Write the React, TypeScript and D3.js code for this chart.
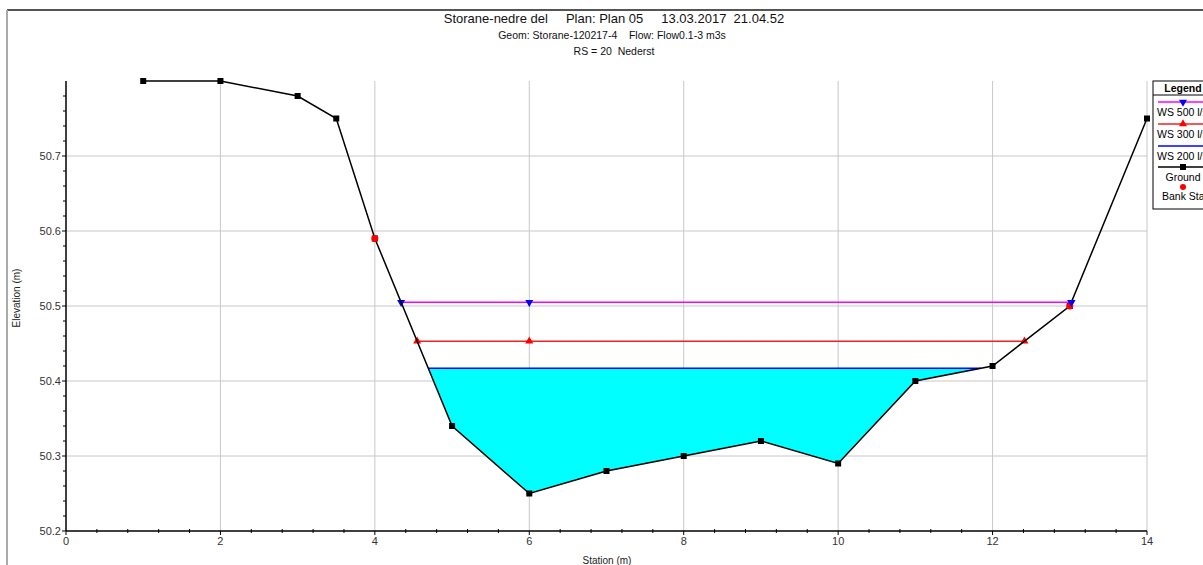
import React from "react";
import * as d3 from "d3";

// ground profile (station m, elevation m)
const groundStations = [1, 2, 3, 3.5, 4, 5, 6, 7, 8, 9, 10, 11, 12, 13, 14];
const groundElev = [50.8, 50.8, 50.78, 50.75, 50.59, 50.34, 50.25, 50.28, 50.3, 50.32, 50.29, 50.4, 50.42, 50.5, 50.75];

// bank stations
const bankStations = [4, 13];
const bankElev = [50.59, 50.5];

// water surfaces
const wsNames = ["WS 500 l/s", "WS 300 l/s", "WS 200 l/s"];
const wsElev = [50.505, 50.453, 50.417];
const wsMidMarker = [6, 6, null];

const xTicks = [0, 2, 4, 6, 8, 10, 12, 14];
const yTicks = [50.2, 50.3, 50.4, 50.5, 50.6, 50.7];

const W = 1203;
const H = 565;
const x = d3.scaleLinear().domain([0, 14]).range([66, 1147]);
const y = d3.scaleLinear().domain([50.2, 50.8]).range([531, 81]);

const ground = groundStations.map((s, i) => ({ s, e: groundElev[i] }));

// where the ground crosses a water level, left and right of the channel
function crossings(ws: number) {
    let left = ground[0].s;
    let right = ground[ground.length - 1].s;
    for (let i = 0; i < ground.length - 1; i++) {
        const a = ground[i], b = ground[i + 1];
        if (a.e >= ws && b.e < ws) {
            left = a.s + ((a.e - ws) / (a.e - b.e)) * (b.s - a.s);
            break;
        }
    }
    for (let i = ground.length - 2; i >= 0; i--) {
        const a = ground[i], b = ground[i + 1];
        if (a.e < ws && b.e >= ws) {
            right = a.s + ((ws - a.e) / (b.e - a.e)) * (b.s - a.s);
            break;
        }
    }
    return [left, right];
}

const wsColors = ["#ff00ff", "#ee2222", "#0000ff"];
const wsMarkerColors = ["#0000ff", "#ff0000", null];

const font = "'Liberation Sans', Arial, sans-serif";

export default function App() {
    const line = d3.line<{ s: number; e: number }>().x((d) => x(d.s)).y((d) => y(d.e));

    // fill below the lowest water surface
    const w200 = wsElev[2];
    const [l200, r200] = crossings(w200);
    const fillPts = [
        { s: l200, e: w200 },
        ...ground.filter((g) => g.s > l200 && g.s < r200),
        { s: r200, e: w200 },
    ];

    const tri = d3.symbol(d3.symbolTriangle, 28)();

    const xMinor = d3.range(0, 14.001, 0.4).filter((v) => Math.abs(v / 2 - Math.round(v / 2)) > 0.01);
    const yMinor = d3.range(50.2, 50.8001, 0.02).filter((v) => Math.abs(v * 10 - Math.round(v * 10)) > 0.01);

    return (
        <svg width={W} height={H} style={{ position: "absolute", left: 0, top: 0, background: "#fff" }} fontFamily={font}>
            {/* frame */}
            <line x1={7} y1={10} x2={W} y2={10} stroke="#555" strokeWidth={2} />
            <line x1={7} y1={10} x2={7} y2={H} stroke="#aaa" strokeWidth={2} />

            {/* titles */}
            <text x={614} y={23} textAnchor="middle" fontSize={13} fill="#111" style={{ whiteSpace: "pre" }}>
                {"Storane-nedre del     Plan: Plan 05     13.03.2017  21.04.52"}
            </text>
            <text x={612} y={39} textAnchor="middle" fontSize={10.5} fill="#111" style={{ whiteSpace: "pre" }}>
                {"Geom: Storane-120217-4    Flow: Flow0.1-3 m3s"}
            </text>
            <text x={614} y={55} textAnchor="middle" fontSize={10.5} fill="#111" style={{ whiteSpace: "pre" }}>
                {"RS = 20  Nederst"}
            </text>

            {/* grid */}
            {xTicks.slice(1).map((t) => (
                <line key={"gx" + t} x1={x(t)} x2={x(t)} y1={y(50.8)} y2={y(50.2)} stroke="#c8c8c8" />
            ))}
            {yTicks.slice(1).map((t) => (
                <line key={"gy" + t} x1={x(0)} x2={x(14)} y1={y(t)} y2={y(t)} stroke="#c8c8c8" />
            ))}

            {/* water fill */}
            <path d={line(fillPts) + "Z"} fill="#00ffff" stroke="none" />

            {/* water surfaces */}
            {wsElev.map((w, i) => {
                const [l, r] = crossings(w);
                return (
                    <g key={"ws" + i}>
                        <line x1={x(l)} x2={x(r)} y1={y(w)} y2={y(w)} stroke={wsColors[i]} strokeWidth={1.5} />
                        {wsMarkerColors[i] &&
                            [l, wsMidMarker[i] as number, r].map((s, k) => (
                                <path
                                    key={k}
                                    d={tri}
                                    fill={wsMarkerColors[i] as string}
                                    transform={`translate(${x(s)},${y(w)}) rotate(${i === 0 ? 180 : 0})`}
                                />
                            ))}
                    </g>
                );
            })}

            {/* ground */}
            <path d={line(ground) || ""} fill="none" stroke="#000" strokeWidth={1.5} />
            {ground.map((g, i) => (
                <rect key={"g" + i} x={x(g.s) - 3} y={y(g.e) - 3} width={6} height={6} fill="#000" />
            ))}
            {bankStations.map((s, i) => (
                <circle key={"b" + i} cx={x(s)} cy={y(bankElev[i])} r={3.5} fill="#ff0000" />
            ))}
            <path d={tri} fill="#0000ff" transform={`translate(${x(crossings(wsElev[0])[1])},${y(wsElev[0])}) rotate(180)`} />

            {/* axes */}
            <line x1={x(0)} x2={x(14)} y1={y(50.2)} y2={y(50.2)} stroke="#000" strokeWidth={1.5} />
            <line x1={x(0)} x2={x(0)} y1={y(50.2)} y2={y(50.8)} stroke="#000" strokeWidth={1.5} />
            {xTicks.map((t) => (
                <g key={"xt" + t}>
                    <line x1={x(t)} x2={x(t)} y1={y(50.2)} y2={y(50.2) + 4} stroke="#000" />
                    <text x={x(t)} y={545} textAnchor="middle" fontSize={11} fill="#333">{t}</text>
                </g>
            ))}
            {xMinor.map((t, i) => (
                <line key={"xm" + i} x1={x(t)} x2={x(t)} y1={y(50.2) - 2} y2={y(50.2) + 2} stroke="#000" />
            ))}
            {yTicks.map((t) => (
                <g key={"yt" + t}>
                    <line x1={x(0) - 4} x2={x(0)} y1={y(t)} y2={y(t)} stroke="#000" />
                    <text x={61} y={y(t) + 4} textAnchor="end" fontSize={11} fill="#333">{t.toFixed(1)}</text>
                </g>
            ))}
            {yMinor.map((t, i) => (
                <line key={"ym" + i} x1={x(0) - 3} x2={x(0)} y1={y(t)} y2={y(t)} stroke="#000" />
            ))}
            <text x={607} y={564} textAnchor="middle" fontSize={10} fill="#222">Station (m)</text>
            <text transform="translate(20,298) rotate(-90)" textAnchor="middle" fontSize={10} fill="#222">Elevation (m)</text>

            {/* legend, partly past the right edge as in the original */}
            <g>
                <rect x={1153} y={81} width={80} height={128} fill="#fff" stroke="#000" />
                <line x1={1153} x2={W} y1={95} y2={95} stroke="#000" />
                <text x={1183} y={92} textAnchor="middle" fontSize={10.5} fontWeight="bold" fill="#000">Legend</text>
                {wsNames.map((n, i) => (
                    <g key={"lg" + i}>
                        <line x1={1158} x2={W} y1={102 + i * 22} y2={102 + i * 22} stroke={wsColors[i]} strokeWidth={1.5} />
                        {wsMarkerColors[i] && (
                            <path d={tri} fill={wsMarkerColors[i] as string} transform={`translate(1183,${102 + i * 22}) rotate(${i === 0 ? 180 : 0})`} />
                        )}
                        <text x={1157} y={116 + i * 22} fontSize={10.5} fill="#000">{n}</text>
                    </g>
                ))}
                <line x1={1158} x2={W} y1={167} y2={167} stroke="#000" strokeWidth={1.5} />
                <rect x={1180} y={164} width={6} height={6} fill="#000" />
                <text x={1183} y={181} textAnchor="middle" fontSize={10.5} fill="#000">Ground</text>
                <circle cx={1183} cy={187} r={3} fill="#ff0000" />
                <text x={1162} y={200} fontSize={10.5} fill="#000">Bank Sta</text>
            </g>
        </svg>
    );
}
